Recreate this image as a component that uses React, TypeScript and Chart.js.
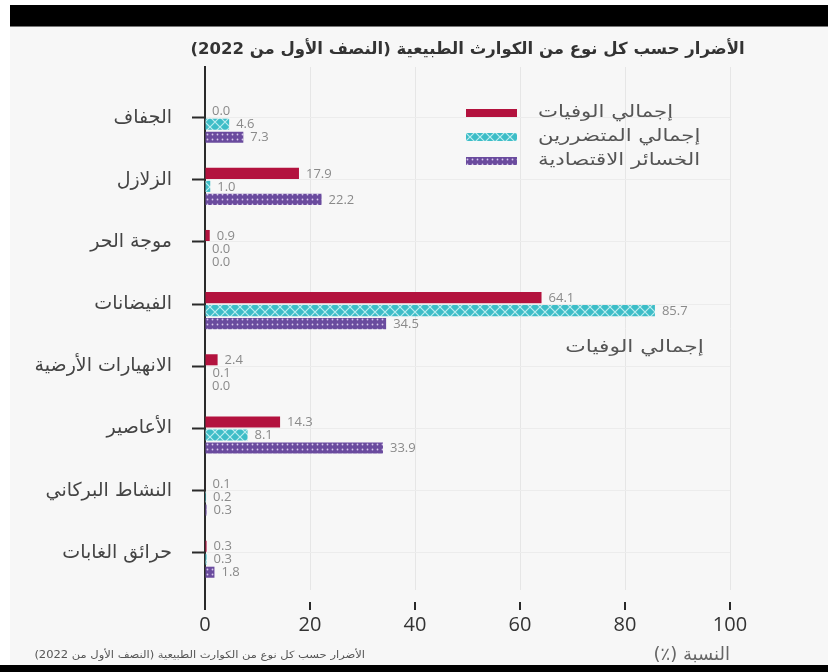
import React, { useEffect, useRef } from 'react';
import { Chart, registerables } from 'chart.js';

Chart.register(...registerables);

// ---- data ----
const categories = [
  'الجفاف',
  'الزلازل',
  'موجة الحر',
  'الفيضانات',
  'الانهيارات الأرضية',
  'الأعاصير',
  'النشاط البركاني',
  'حرائق الغابات',
];
const deaths = [0.0, 17.9, 0.9, 64.1, 2.4, 14.3, 0.1, 0.3];
const affected = [4.6, 1.0, 0.0, 85.7, 0.1, 8.1, 0.2, 0.3];
const economic = [7.3, 22.2, 0.0, 34.5, 0.0, 33.9, 0.3, 1.8];
const seriesNames = ['إجمالي الوفيات', 'إجمالي المتضررين', 'الخسائر الاقتصادية'];
const xTickValues = [0, 20, 40, 60, 80, 100];
const titleText = 'الأضرار حسب كل نوع من الكوارث الطبيعية (النصف الأول من 2022)';
const axisTitleText = 'النسبة (٪)';
const strayLabelText = 'إجمالي الوفيات';
const footnoteText = 'الأضرار حسب كل نوع من الكوارث الطبيعية (النصف الأول من 2022)';

const ARABIC = '"DejaVu Sans", sans-serif';
const NUM = '"Open Sans", "DejaVu Sans", sans-serif';

function makeCross(ctx: CanvasRenderingContext2D) {
  const c = document.createElement('canvas');
  c.width = 10;
  c.height = 10;
  const g = c.getContext('2d')!;
  g.fillStyle = '#3dbdc7';
  g.fillRect(0, 0, 10, 10);
  g.strokeStyle = 'rgba(220,248,250,0.8)';
  g.lineWidth = 1.2;
  g.beginPath();
  g.moveTo(-1, -1);
  g.lineTo(11, 11);
  g.moveTo(11, -1);
  g.lineTo(-1, 11);
  g.stroke();
  return ctx.createPattern(c, 'repeat')!;
}

function makeDots(ctx: CanvasRenderingContext2D) {
  const c = document.createElement('canvas');
  c.width = 5;
  c.height = 5;
  const g = c.getContext('2d')!;
  g.fillStyle = '#6a4b9e';
  g.fillRect(0, 0, 5, 5);
  g.fillStyle = 'rgba(235,225,250,0.85)';
  g.beginPath();
  g.arc(2.5, 2.5, 0.9, 0, Math.PI * 2);
  g.fill();
  return ctx.createPattern(c, 'repeat')!;
}

// draw Arabic text right-to-left, optionally stretched horizontally
function rtlText(
  ctx: CanvasRenderingContext2D,
  text: string,
  x: number,
  y: number,
  align: CanvasTextAlign,
  font: string,
  color: string,
  stretch = 1
) {
  ctx.save();
  ctx.direction = 'rtl';
  ctx.font = font;
  ctx.fillStyle = color;
  ctx.textAlign = align;
  ctx.textBaseline = 'middle';
  ctx.translate(x, y);
  ctx.scale(stretch, 1);
  ctx.fillText(text, 0, 0);
  ctx.restore();
}

const decorPlugin = {
  id: 'decor',
  afterDatasetsDraw(chart: any) {
    const ctx = chart.ctx as CanvasRenderingContext2D;
    ctx.save();
    ctx.font = '13px ' + NUM;
    ctx.fillStyle = '#8a8a8a';
    ctx.textAlign = 'left';
    ctx.textBaseline = 'middle';
    chart.data.datasets.forEach((ds: any, di: number) => {
      if (ds.isDummy) return;
      const meta = chart.getDatasetMeta(di);
      meta.data.forEach((el: any, i: number) => {
        const v = ds.data[i].x as number;
        ctx.fillText(v.toFixed(1), el.x + 7, el.y + 0.5);
      });
    });
    ctx.restore();
  },
  afterDraw(chart: any) {
    const ctx = chart.ctx as CanvasRenderingContext2D;
    const area = chart.chartArea;
    const xs = chart.scales.x;
    const ys = chart.scales.y;
    ctx.save();

    // x tick marks and axis extension
    ctx.strokeStyle = '#2a2a2a';
    ctx.lineWidth = 2;
    xTickValues.forEach((v) => {
      const px = Math.round(xs.getPixelForValue(v));
      ctx.beginPath();
      ctx.moveTo(px, v === 0 ? area.bottom : area.bottom + 12);
      ctx.lineTo(px, area.bottom + 20);
      ctx.stroke();
    });
    ctx.restore();

    // title
    rtlText(ctx, titleText, (area.left + area.right) / 2, 23, 'center', 'bold 16.5px ' + ARABIC, '#333');

    // legend
    const fills = chart.data.datasets.filter((d: any) => !d.isDummy).map((d: any) => d.backgroundColor);
    const legendY = [86, 110, 134];
    seriesNames.forEach((name, i) => {
      ctx.save();
      ctx.fillStyle = fills[i];
      ctx.fillRect(456, legendY[i] - 4, 51, 8);
      ctx.restore();
      rtlText(ctx, name, 528, legendY[i], 'left', '17px ' + ARABIC, '#555', 1.25);
    });

    // stray annotation inside plot
    rtlText(ctx, strayLabelText, xs.getPixelForValue(95), ys.getPixelForValue(3.7), 'right', '17px ' + ARABIC, '#555', 1.28);

    // axis title
    rtlText(ctx, axisTitleText, area.right, 628, 'right', '18px ' + ARABIC, '#666');

    // footnote
    rtlText(ctx, footnoteText, 355, 628, 'right', '10px ' + ARABIC, '#555', 1.15);
  },
};

export default function App() {
  const ref = useRef<HTMLCanvasElement | null>(null);

  useEffect(() => {
    const canvas = ref.current!;
    const ctx = canvas.getContext('2d')!;
    const cross = makeCross(ctx);
    const dots = makeDots(ctx);

    const toPoints = (arr: number[]) => arr.map((v, i) => ({ x: v, y: i }));

    const chart = new Chart(canvas, {
      type: 'bar',
      data: {
        datasets: [
          {
            label: '',
            isDummy: true,
            data: categories.map((_, i) => ({ x: null, y: i })),
            backgroundColor: 'rgba(0,0,0,0)',
          } as any,
          {
            label: seriesNames[0],
            data: toPoints(deaths),
            backgroundColor: '#b3123e',
          },
          {
            label: seriesNames[1],
            data: toPoints(affected),
            backgroundColor: cross,
          },
          {
            label: seriesNames[2],
            data: toPoints(economic),
            backgroundColor: dots,
          },
        ],
      },
      options: {
        indexAxis: 'y',
        animation: false,
        responsive: false,
        devicePixelRatio: 1,
        categoryPercentage: 0.837,
        barPercentage: 0.85,
        layout: { padding: { top: 40, right: 98, bottom: 0, left: 0 } },
        plugins: {
          legend: { display: false },
          tooltip: { enabled: false },
          title: { display: false },
        },
        scales: {
          x: {
            type: 'linear',
            min: 0,
            max: 100,
            afterFit: (s: any) => {
              s.height = 75;
            },
            afterBuildTicks: (s: any) => {
              s.ticks = xTickValues.map((v) => ({ value: v }));
            },
            grid: {
              color: (c: any) => (c.tick && c.tick.value === 0 ? 'rgba(0,0,0,0)' : '#e6e6e6'),
              lineWidth: 1,
              drawTicks: false,
            },
            border: { display: false },
            ticks: {
              padding: 23,
              color: '#333',
              font: { family: NUM, size: 20 },
            },
          },
          y: {
            type: 'linear',
            reverse: true,
            offset: false,
            min: -0.816,
            max: 7.6,
            afterFit: (s: any) => {
              s.width = 195;
            },
            afterBuildTicks: (s: any) => {
              s.ticks = categories.map((_, i) => ({ value: i }));
            },
            grid: {
              offset: false,
              color: '#ececec',
              lineWidth: 1,
              drawTicks: true,
              tickLength: 13,
              tickColor: '#2a2a2a',
              tickWidth: 2,
            },
            border: { display: true, color: '#2a2a2a', width: 2 },
            ticks: {
              autoSkip: false,
              padding: 20,
              color: '#444',
              font: { family: ARABIC, size: 19 },
              callback: (v: any) => categories[v as number] ?? '',
            },
          },
        },
      },
      plugins: [decorPlugin],
    } as any);

    return () => chart.destroy();
  }, []);

  return (
    <div
      style={{
        position: 'fixed',
        left: 0,
        top: 0,
        width: 828,
        height: 672,
        background: '#ffffff',
        overflow: 'hidden',
      }}
    >
      <div style={{ position: 'absolute', left: 10, top: 5, width: 818, height: 21, background: '#000' }} />
      <div style={{ position: 'absolute', left: 10, top: 26, width: 818, height: 1, background: '#777' }} />
      <div style={{ position: 'absolute', left: 10, top: 27, width: 818, height: 638, background: '#f7f7f7' }}>
        <canvas ref={ref} width={818} height={638} style={{ display: 'block', width: 818, height: 638 }} />
      </div>
      <div style={{ position: 'absolute', left: 0, top: 665, width: 828, height: 7, background: '#000' }} />
    </div>
  );
}
